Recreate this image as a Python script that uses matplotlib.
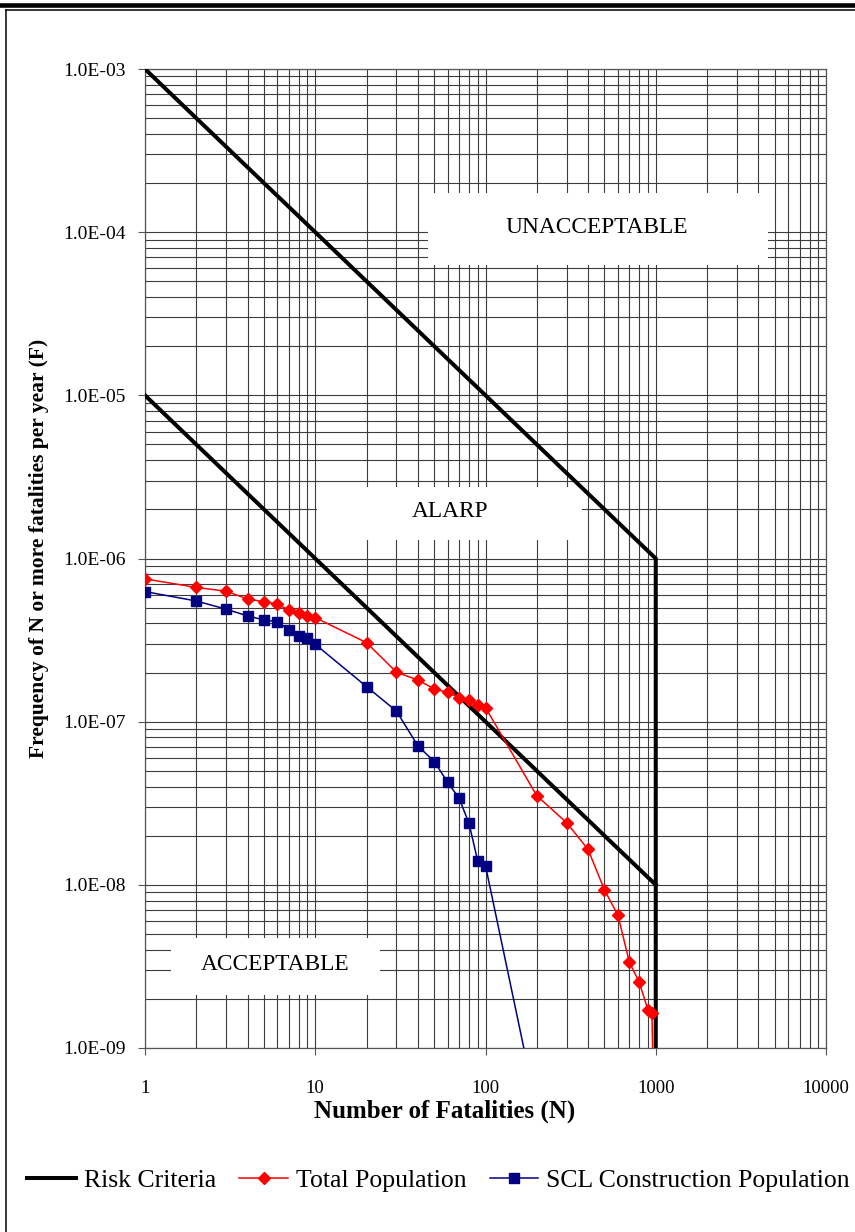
import numpy as np
import matplotlib
matplotlib.use("Agg")
import matplotlib.pyplot as plt
from matplotlib.lines import Line2D
from matplotlib.patches import Rectangle
from matplotlib.ticker import LogLocator, FuncFormatter, NullFormatter

plt.rcParams["font.family"] = ["Liberation Serif", "DejaVu Serif"]

# risk criteria lines (F-N limits)
risk_upper_n = [1, 1000, 1000]
risk_upper_f = [1e-3, 1e-6, 1e-10]
risk_lower_n = [1, 1000]
risk_lower_f = [1e-5, 1e-8]

# Total Population
total_n = [1, 2, 3, 4, 5, 6, 7, 8, 9, 10, 20, 30, 40, 50, 60, 70, 80, 90, 100,
           200, 300, 400, 500, 600, 700, 800, 900, 950, 1000]
total_f = [7.5e-7, 6.65e-7, 6.3e-7, 5.65e-7, 5.43e-7, 5.24e-7, 4.83e-7, 4.61e-7,
           4.44e-7, 4.34e-7, 3.05e-7, 2.01e-7, 1.80e-7, 1.59e-7, 1.51e-7,
           1.40e-7, 1.36e-7, 1.27e-7, 1.22e-7, 3.52e-8, 2.40e-8, 1.65e-8,
           9.3e-9, 6.5e-9, 3.35e-9, 2.53e-9, 1.71e-9, 1.63e-9, 1e-10]

# SCL Construction Population
scl_n = [1, 2, 3, 4, 5, 6, 7, 8, 9, 10, 20, 30, 40, 50, 60, 70, 80, 90, 100, 200]
scl_f = [6.27e-7, 5.49e-7, 4.89e-7, 4.45e-7, 4.2e-7, 4.1e-7, 3.65e-7, 3.35e-7,
         3.24e-7, 2.98e-7, 1.64e-7, 1.16e-7, 7.13e-8, 5.69e-8, 4.25e-8,
         3.39e-8, 2.38e-8, 1.40e-8, 1.31e-8, 4.2e-10]

W, H = 855, 1232
fig = plt.figure(figsize=(W / 100, H / 100), dpi=100)

# axes box in pixels: left 145, right 826, top 69, bottom 1048
ax = fig.add_axes([145 / W, 1 - 1048 / H, 681 / W, 979 / H])
ax.set_xscale("log")
ax.set_yscale("log")
ax.set_xlim(1, 10000)
ax.set_ylim(1e-9, 1e-3)

ax.yaxis.set_major_locator(LogLocator(base=10, numticks=20))
ax.yaxis.set_minor_locator(LogLocator(base=10, subs=np.arange(2, 10), numticks=100))
ax.xaxis.set_major_locator(LogLocator(base=10, numticks=20))
ax.xaxis.set_minor_locator(LogLocator(base=10, subs=np.arange(2, 10), numticks=100))
ax.yaxis.set_major_formatter(FuncFormatter(lambda v, p: f"{v:.1E}"))
ax.xaxis.set_major_formatter(FuncFormatter(lambda v, p: f"{v:g}"))
ax.xaxis.set_minor_formatter(NullFormatter())
ax.yaxis.set_minor_formatter(NullFormatter())

ax.grid(True, which="both", color="#3c3c3c", lw=0.8)
ax.tick_params(which="major", direction="out", length=5, width=0.8,
               color="#555555")
ax.tick_params(axis="x", which="major", pad=18, labelsize=13.5)
ax.tick_params(axis="y", which="major", pad=9, labelsize=14)
ax.tick_params(which="minor", length=0)
for s in ax.spines.values():
    s.set_color("#555555")
    s.set_linewidth(0.9)

# zone labels on white boxes
zones = [
    ("UNACCEPTABLE", (0.4156, 0.7998, 0.4992, 0.0735), (0.664, 0.8376)),
    ("ALARP", (0.2526, 0.5189, 0.3891, 0.0541), (0.448, 0.5485)),
    ("ACCEPTABLE", (0.0382, 0.0541, 0.3069, 0.0583), (0.191, 0.0848)),
]
for label, (bx, by, bw, bh), (tx, ty) in zones:
    ax.add_patch(Rectangle((bx, by), bw, bh, transform=ax.transAxes,
                           facecolor="white", edgecolor="none", zorder=2))
    ax.text(tx, ty, label, transform=ax.transAxes, ha="center", va="center",
            fontsize=16.8, zorder=3)

ax.plot(risk_upper_n, risk_upper_f, color="black", lw=2.9, zorder=4,
        label="Risk Criteria", solid_joinstyle="miter")
ax.plot(risk_lower_n, risk_lower_f, color="black", lw=2.9, zorder=4)
ax.plot(total_n, total_f, color="#ff0000", lw=1.1, marker="D", ms=6.5,
        mec="#ff0000", zorder=5, label="Total Population")
ax.plot(scl_n, scl_f, color="#000080", lw=1.1, marker="s", ms=7.5,
        mec="#000080", zorder=6, label="SCL Construction Population")

ax.set_xlabel("Number of Fatalities (N)", fontsize=18, fontweight="bold")
ax.xaxis.set_label_coords(0.44, -0.0644)
ax.xaxis.label.set_va("center")
ax.set_ylabel("Frequency of N or more fatalities per year (F)", fontsize=15.5,
              fontweight="bold")
ax.yaxis.set_label_coords(-0.155, 0.5107)
ax.yaxis.label.set_va("center")

handles, labels = ax.get_legend_handles_labels()
fig.legend(handles, labels, loc="center", bbox_to_anchor=(0.513, 1 - 1181 / H),
           ncol=3, frameon=False, fontsize=18.5, handlelength=1.9,
           handletextpad=0.3, columnspacing=0.9, numpoints=1)

# page border lines
fig.add_artist(Line2D([0, 1], [1 - 5 / H, 1 - 5 / H], color="black", lw=3.3,
                      transform=fig.transFigure))
fig.add_artist(Line2D([6 / W, 1], [1 - 10 / H, 1 - 10 / H], color="black", lw=1.1,
                      transform=fig.transFigure))
fig.add_artist(Line2D([6 / W, 6 / W], [0, 1 - 10 / H], color="black", lw=1.1,
                      transform=fig.transFigure))

fig.savefig("out.png", dpi=100)
